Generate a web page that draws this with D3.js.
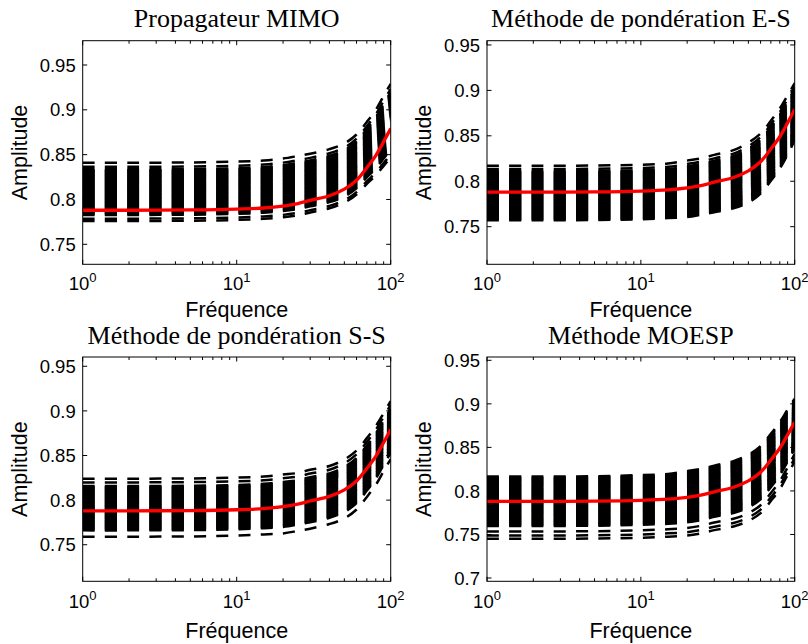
<!DOCTYPE html>
<html><head><meta charset="utf-8">
<script src="https://cdn.jsdelivr.net/npm/d3@7"></script>
<style>body{margin:0;background:#fff} svg{display:block}</style>
</head><body>
<svg id="c" width="808" height="644"></svg>
<script>
// ---------- data ----------
const freqs   = [1, 2, 5, 10, 15, 20, 25, 30, 40, 50, 60, 70, 80, 90, 100];
// true system amplitude (red curve)
const trueAmp = [0.788, 0.788, 0.7883, 0.7892, 0.7905, 0.7927, 0.7955, 0.799, 0.8042, 0.8115, 0.8215, 0.8355, 0.849, 0.8645, 0.879];

// lower / upper envelope of the identified curves, as offsets from the true amplitude
const loMIMO = [-0.012,-0.012,-0.012,-0.012,-0.012,-0.0125,-0.013,-0.0135,-0.014,-0.015,-0.016,-0.018,-0.022,-0.027,-0.032];
const hiMIMO = [0.053, 0.053, 0.053, 0.053, 0.053, 0.053, 0.053, 0.052, 0.052, 0.051, 0.051, 0.051, 0.051, 0.051, 0.050];
const loES   = [-0.031,-0.031,-0.031,-0.031,-0.031,-0.032,-0.032,-0.033,-0.034,-0.035,-0.035,-0.035,-0.035,-0.035,-0.034];
const hiES   = [0.029, 0.029, 0.029, 0.029, 0.029, 0.030, 0.030, 0.030, 0.030, 0.031, 0.031, 0.031, 0.031, 0.030, 0.029];
const loSS   = [-0.029,-0.029,-0.029,-0.029,-0.029,-0.030,-0.030,-0.031,-0.031,-0.032,-0.032,-0.032,-0.032,-0.032,-0.033];
const hiSS   = [0.036, 0.036, 0.036, 0.036, 0.036, 0.036, 0.035, 0.035, 0.034, 0.034, 0.034, 0.034, 0.034, 0.033, 0.032];
const loMO   = [-0.043,-0.043,-0.043,-0.043,-0.043,-0.044,-0.044,-0.044,-0.045,-0.046,-0.047,-0.047,-0.047,-0.046,-0.045];
const hiMO   = [0.0285,0.0285,0.0285,0.029, 0.029, 0.030, 0.030, 0.030, 0.030, 0.030, 0.030, 0.030, 0.030, 0.029, 0.027];

// positions of individual curves inside the envelope (0 = lower, 1 = upper)
const outMIMO = [0, 0.04, 0.93, 1];   const denseMIMO = [0.104, 0.887];
const outES   = [0.94, 1];            const denseES   = [0.0, 0.90];
const outSS   = [0, 0.936, 1];        const denseSS   = [0.109, 0.874];
const outMO   = [0, 0.053, 0.118];    const denseMO   = [0.206, 1.0];
const denseCount = 50;

const titles   = ["Propagateur MIMO", "Méthode de pondération E-S", "Méthode de pondération S-S", "Méthode MOESP"];
const yTicksA  = [0.75, 0.8, 0.85, 0.9, 0.95];
const yTicksB  = [0.7, 0.75, 0.8, 0.85, 0.9, 0.95];
const yLims    = [[0.7277, 0.9771], [0.7086, 0.9547], [0.709, 0.9604], [0.6962, 0.9538]];
const xMajor   = [1, 10, 100];
const xExp     = ["0", "1", "2"];
const xMinor   = [2,3,4,5,6,7,8,9,20,30,40,50,60,70,80,90];
const xLabel   = "Fréquence";
const yLabel   = "Amplitude";

// ---------- layout ----------
const layout = [
  {l:82.7, t:40.7, r:390.7, b:264.3, titleY:26.5,  tickY:290,  labY:316.5, ylabX:27},
  {l:487,  t:40.7, r:794.7, b:264.3, titleY:26.5,  tickY:290,  labY:316.5, ylabX:431},
  {l:82.7, t:357,  r:390.7, b:581.3, titleY:343.5, tickY:608,  labY:637.5, ylabX:27},
  {l:487,  t:357,  r:794.7, b:581.3, titleY:343.5, tickY:608,  labY:637.5, ylabX:431}
];
const panels = [
  {lo:loMIMO, hi:hiMIMO, out:outMIMO, dense:denseMIMO, yt:yTicksA},
  {lo:loES,   hi:hiES,   out:outES,   dense:denseES,   yt:yTicksA},
  {lo:loSS,   hi:hiSS,   out:outSS,   dense:denseSS,   yt:yTicksA},
  {lo:loMO,   hi:hiMO,   out:outMO,   dense:denseMO,   yt:yTicksB}
];

const svg = d3.select("#c");
const sansF = "'Liberation Sans', Arial, Helvetica, sans-serif";
const serifF = "'Liberation Serif', 'Times New Roman', serif";

panels.forEach((p, k) => {
  const L = layout[k];
  const x = d3.scaleLog().domain([1, 100]).range([L.l, L.r]);
  const y = d3.scaleLinear().domain(yLims[k]).range([L.b, L.t]);
  const g = svg.append("g");
  const cid = "clip" + k;
  svg.append("clipPath").attr("id", cid).append("rect")
     .attr("x", L.l).attr("y", L.t).attr("width", L.r - L.l).attr("height", L.b - L.t);

  const line = d3.line().x(d => x(d[0])).y(d => y(d[1])).curve(d3.curveCatmullRom.alpha(0.5));
  const ts = p.out.concat(d3.range(denseCount).map(i => p.dense[0] + (p.dense[1]-p.dense[0]) * i/(denseCount-1)));
  const curves = ts.map(t => freqs.map((f, i) => [f, trueAmp[i] + p.lo[i] + t * (p.hi[i] - p.lo[i])]));

  const plot = g.append("g").attr("clip-path", `url(#${cid})`);
  plot.selectAll("path.mc").data(curves).join("path").attr("class","mc")
    .attr("d", line).attr("fill","none").attr("stroke","#000")
    .attr("stroke-width", 2.5).attr("stroke-dasharray","12,10.25").attr("stroke-linecap","butt");
  plot.append("path").datum(freqs.map((f,i)=>[f,trueAmp[i]]))
    .attr("d", line).attr("fill","none").attr("stroke","#ff0000").attr("stroke-width",3.3);

  // frame
  g.append("rect").attr("x", L.l).attr("y", L.t).attr("width", L.r-L.l).attr("height", L.b-L.t)
    .attr("fill","none").attr("stroke","#000").attr("stroke-width",1);

  // y ticks
  p.yt.forEach(v => {
    const yy = y(v);
    g.append("line").attr("x1",L.l).attr("x2",L.l+4.5).attr("y1",yy).attr("y2",yy).attr("stroke","#000");
    g.append("line").attr("x1",L.r).attr("x2",L.r-4.5).attr("y1",yy).attr("y2",yy).attr("stroke","#000");
    g.append("text").attr("x", L.l-7).attr("y", yy).attr("dy","0.36em")
      .attr("text-anchor","end").attr("font-family",sansF).attr("font-size",18.5).text(String(v));
  });
  // x ticks
  xMajor.forEach((v, i) => {
    const xx = x(v);
    g.append("line").attr("x1",xx).attr("x2",xx).attr("y1",L.b).attr("y2",L.b-4.5).attr("stroke","#000");
    g.append("line").attr("x1",xx).attr("x2",xx).attr("y1",L.t).attr("y2",L.t+4.5).attr("stroke","#000");
    const t = g.append("text").attr("x", xx).attr("y", L.tickY).attr("text-anchor","middle")
      .attr("font-family",sansF).attr("font-size",18.5);
    t.append("tspan").text("10");
    t.append("tspan").attr("dy",-8).attr("font-size",13).text(xExp[i]);
  });
  xMinor.forEach(v => {
    const xx = x(v);
    g.append("line").attr("x1",xx).attr("x2",xx).attr("y1",L.b).attr("y2",L.b-3).attr("stroke","#000");
    g.append("line").attr("x1",xx).attr("x2",xx).attr("y1",L.t).attr("y2",L.t+3).attr("stroke","#000");
  });

  // labels
  g.append("text").attr("x", (L.l+L.r)/2).attr("y", L.labY).attr("text-anchor","middle")
    .attr("font-family",sansF).attr("font-size",21.5).text(xLabel);
  g.append("text").attr("transform", `translate(${L.ylabX},${(L.t+L.b)/2}) rotate(-90)`)
    .attr("text-anchor","middle").attr("font-family",sansF).attr("font-size",21.5).text(yLabel);
  g.append("text").attr("x", (L.l+L.r)/2).attr("y", L.titleY).attr("text-anchor","middle")
    .attr("font-family",serifF).attr("font-size",26).text(titles[k]);
});
</script>
</body></html>
